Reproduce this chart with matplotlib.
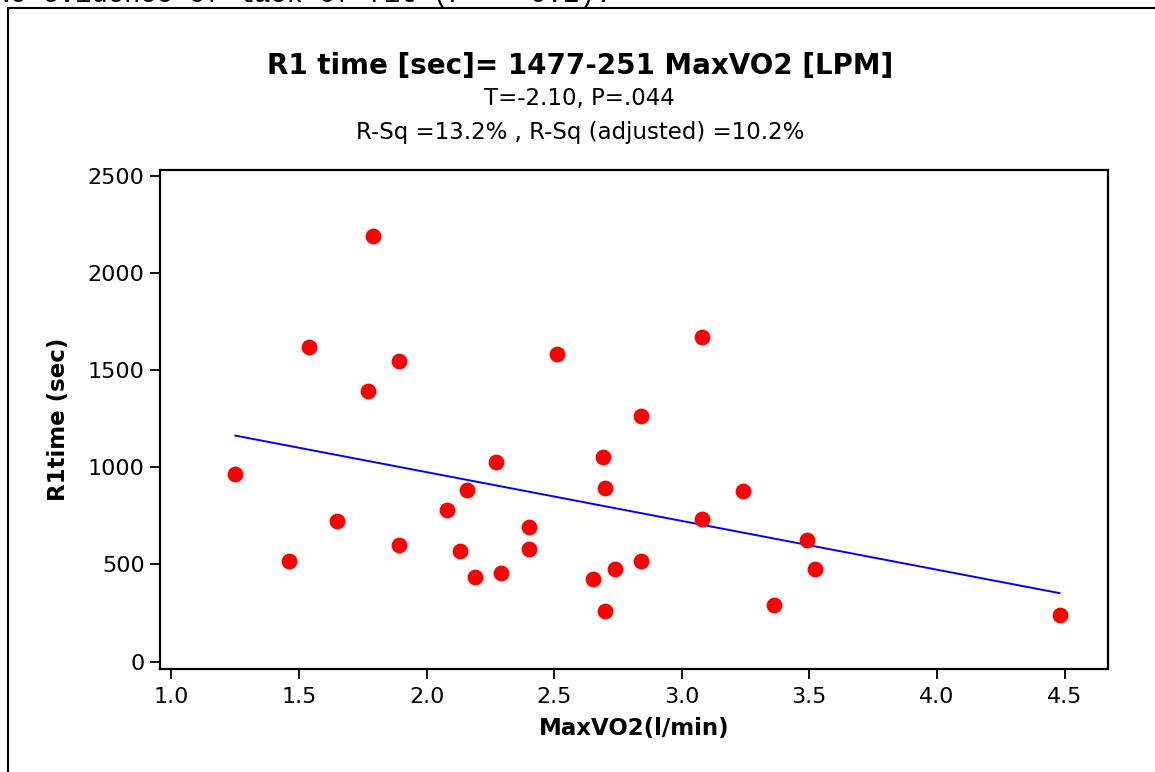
import matplotlib.pyplot as plt
import numpy as np
from matplotlib.patches import Rectangle

# MaxVO2 (l/min) vs R1 time (sec)
max_vo2 = [1.25, 1.46, 1.54, 1.65, 1.77, 1.79, 1.89, 1.89, 2.08, 2.13,
           2.16, 2.19, 2.27, 2.29, 2.40, 2.40, 2.51, 2.65, 2.69, 2.70,
           2.70, 2.74, 2.84, 2.84, 3.08, 3.08, 3.24, 3.36, 3.49, 3.52, 4.48]
r1_time = [965, 520, 1618, 726, 1394, 2190, 1545, 602, 778, 571,
           881, 436, 1026, 457, 695, 581, 1585, 426, 1055, 891,
           260, 476, 519, 1262, 1672, 736, 880, 293, 624, 479, 241]

# fitted line from the title
intercept = 1477
slope = -251

x_ticks = [1.0, 1.5, 2.0, 2.5, 3.0, 3.5, 4.0, 4.5]
y_ticks = [0, 500, 1000, 1500, 2000, 2500]

title = 'R1 time [sec]= 1477-251 MaxVO2 [LPM]'
subtitle1 = 'T=-2.10, P=.044'
subtitle2 = 'R-Sq =13.2% , R-Sq (adjusted) =10.2%'
top_note = 'No evidence of lack of fit (P >= 0.1).'

plt.rcParams['font.family'] = ['DejaVu Sans']

fig = plt.figure(figsize=(11.55, 7.72), dpi=100)
ax = fig.add_axes([160 / 1155, 1 - 669 / 772, (1108 - 160) / 1155, (669 - 170) / 772])

ax.scatter(max_vo2, r1_time, s=130, color='#ff0000', zorder=3, linewidths=0)
fit_x = np.array([min(max_vo2), max(max_vo2)])
ax.plot(fit_x, intercept + slope * fit_x, color='#0000ff', lw=1.4, zorder=2)

ax.set_xlim(0.955, 4.67)
ax.set_ylim(-38, 2530)
ax.set_xticks(x_ticks)
ax.set_xticklabels(['{:.1f}'.format(v) for v in x_ticks])
ax.set_yticks(y_ticks)
ax.tick_params(labelsize=16, length=7, width=1.3)
ax.tick_params(axis='x', pad=6)
ax.tick_params(axis='y', pad=4)
for spine in ax.spines.values():
    spine.set_linewidth(1.6)

ax.set_xlabel('MaxVO2(l/min)', fontsize=16.5, fontweight='bold', labelpad=7)
ax.set_ylabel('R1time (sec)', fontsize=16.5, fontweight='bold', labelpad=13)

fig.text(0.502, 1 - 74 / 772, title, ha='center', va='baseline', fontsize=20, fontweight='bold')
fig.text(0.502, 1 - 105 / 772, subtitle1, ha='center', va='baseline', fontsize=16.5)
fig.text(0.502, 1 - 139 / 772, subtitle2, ha='center', va='baseline', fontsize=16.5)
# only the lower half of this line is visible in the original screenshot
fig.text(-0.005, 1 + 5 / 772, top_note, ha='left', va='center', fontsize=19.5,
         family='Liberation Mono')

fig.add_artist(Rectangle((8 / 1155, -0.05), 1.1, 1 - 8 / 772 + 0.05, transform=fig.transFigure,
                         fill=False, edgecolor='black', lw=1.5))

fig.savefig('out.png', dpi=100)
